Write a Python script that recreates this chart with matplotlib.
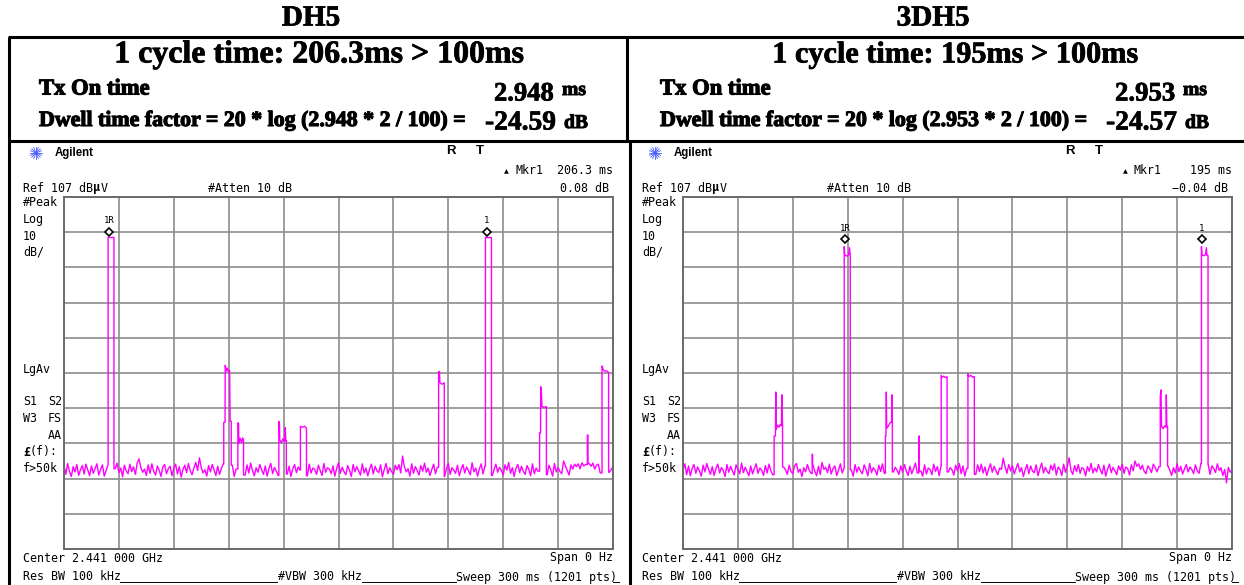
import numpy as np
import matplotlib
matplotlib.use('Agg')
import matplotlib.pyplot as plt
import matplotlib.patheffects as pe

# ---------------- data ----------------
PANEL_TITLES = ['DH5', '3DH5']
CYCLE_TIMES = ['206.3ms', '195ms']
TX_ON = ['2.948', '2.953']
DWELL_DB = ['-24.59', '-24.57']
MKR_DELTA_TIME = ['206.3 ms', '195 ms']
MKR_DELTA_DB = ['0.08 dB', '\u22120.04 dB']

REF_DB = 107          # dBuV top of screen
DB_PER_DIV = 10
SWEEP_MS = 300
NOISE_STEP_MS = 1

# noise floor samples (dBuV), one every 1 ms from 0 to 300 ms
DH5_NOISE = [
    30.8, 28.2, 31.3, 29.0, 27.6, 30.4, 28.9, 31.0, 27.9, 29.5, 30.7, 28.3, 31.1, 29.4, 27.8, 30.6, 28.5, 29.9, 31.2, 28.0,
    29.6, 30.9, 27.7, 29.3, 31.0, 28.6, 30.2, 28.1, 29.8, 31.4, 28.7, 30.0, 27.5, 30.8, 29.2, 28.4, 31.1, 29.0, 30.3, 28.2,
    31.5, 32.6, 30.1, 28.8, 29.7, 27.9, 30.9, 28.5, 31.2, 29.1, 28.0, 30.6, 29.4, 27.6, 30.3, 31.0, 28.4, 29.8, 30.5, 27.8,
    29.9, 31.1, 28.3, 30.4, 27.4, 29.6, 30.8, 28.7, 31.3, 29.2, 28.1, 30.0, 31.6, 29.3, 32.9, 30.2, 28.6, 29.5, 27.7, 30.7,
    28.9, 31.0, 29.4, 27.9, 30.5, 28.2, 29.9, 31.2, 28.5, 30.3, 29.0, 28.4, 30.8, 27.6, 29.7, 31.1, 28.3, 30.4, 29.2, 28.0,
    30.9, 28.6, 31.4, 29.3, 27.8, 30.1, 28.8, 31.0, 29.5, 28.2, 30.6, 27.7, 29.9, 31.3, 28.4, 30.2, 29.1, 27.9, 30.7, 28.5,
    31.2, 29.0, 28.3, 30.5, 27.6, 29.8, 31.0, 28.7, 30.3, 29.4, 28.1, 30.9, 29.2, 27.8, 31.1, 28.6, 30.0, 29.6, 28.2, 30.8,
    29.3, 27.9, 31.3, 28.8, 30.1, 29.7, 28.4, 30.6, 27.7, 29.9, 31.5, 28.5, 30.2, 29.0, 28.1, 30.7, 29.4, 27.6, 31.0, 28.9,
    30.4, 29.1, 28.0, 31.2, 28.6, 30.0, 27.8, 29.7, 31.1, 28.3, 30.5, 29.2, 28.7, 30.9, 27.5, 29.6, 31.3, 28.4, 30.1, 29.0,
    28.2, 30.8, 29.5, 31.0, 28.6, 33.4, 30.3, 28.9, 29.8, 27.7, 31.2, 28.5, 30.4, 29.3, 28.0, 30.7, 29.1, 31.4, 28.8, 30.0,
    27.9, 29.6, 31.1, 28.4, 30.2, 29.0, 28.7, 30.6, 27.6, 29.9, 31.3, 28.2, 30.1, 29.4, 28.5, 30.8, 27.8, 29.7, 31.0, 28.6,
    30.3, 29.2, 28.1, 31.5, 28.9, 30.0, 27.7, 29.8, 31.2, 28.3, 30.6, 29.1, 28.6, 30.4, 27.9, 29.5, 31.1, 28.8, 30.2, 29.3,
    28.0, 30.9, 29.4, 31.6, 28.5, 30.1, 27.6, 29.9, 31.0, 28.7, 30.5, 29.0, 28.2, 30.7, 29.6, 27.8, 31.2, 28.4, 30.0, 29.1,
    28.6, 30.3, 29.2, 31.0, 28.1, 30.8, 29.5, 27.7, 31.3, 28.9, 30.2, 29.0, 28.4, 32.0, 30.6, 29.3, 28.0, 30.9, 29.7, 31.1,
    30.4, 31.2, 29.8, 31.5, 30.6, 31.0, 29.9, 31.3, 30.5, 31.4, 29.7, 30.8, 31.1, 28.6, 30.2, 29.4, 27.5, 30.0, 28.8, 29.6,
    30.3,
]
DH5_BURSTS = [
    [(24.1, 95.5), (27.3, 95.5)],
    [(87.3, 43.0), (88.0, 43.0), (88.1, 59.2), (88.6, 57.6), (89.2, 58.4),
     (89.8, 57.3), (90.5, 57.8), (90.8, 43.3), (91.4, 43.3)],
    [(95.0, 42.8), (95.4, 42.8), (95.5, 37.0), (96.2, 38.5), (97.0, 37.2),
     (97.6, 38.6), (98.1, 38.0)],
    [(117.4, 43.2), (117.7, 43.2), (117.9, 38.0), (118.8, 37.2), (119.6, 38.3),
     (120.5, 37.5), (120.9, 41.5), (121.2, 37.8), (121.5, 37.8)],
    [(129.2, 41.8), (130.5, 41.6), (131.5, 41.9), (132.5, 41.3)],
    [(204.7, 57.4), (205.2, 57.4), (205.4, 54.3), (206.5, 53.8), (207.8, 54.2)],
    [(230.3, 95.5), (233.6, 95.5)],
    [(259.9, 40.0), (260.4, 40.0), (260.5, 53.1), (260.8, 52.0), (261.2, 47.5),
     (262.5, 47.2), (263.6, 47.5)],
    [(286.0, 39.4), (286.3, 39.4)],
    [(294.0, 59.0), (294.6, 58.0), (295.5, 57.5), (296.5, 57.6), (297.6, 57.2)],
]
DH5_MKR_TIMES = [24.6, 230.9]
DH5_MKR_LEVELS = [97.1, 97.1]
DH5_MKR_LABELS = ['1R', '1']

DH3_NOISE = [
    29.4, 31.2, 28.1, 30.6, 27.8, 29.9, 31.0, 28.5, 30.3, 29.1, 27.7, 30.8, 28.9, 31.3, 29.6, 28.2, 30.4, 27.9, 29.8, 31.1,
    28.6, 30.1, 29.3, 27.6, 31.0, 28.8, 30.5, 29.2, 28.0, 30.9, 29.7, 28.4, 31.4, 28.7, 30.2, 29.0, 27.8, 30.6, 28.3, 29.9,
    31.2, 28.5, 30.0, 29.4, 27.9, 30.7, 28.6, 31.1, 29.2, 28.1, 30.4, 29.8, 27.7, 31.0, 28.9, 30.3, 29.5, 28.2, 30.8, 29.0,
    28.4, 30.6, 31.3, 28.8, 29.7, 27.6, 30.1, 28.9, 31.0, 29.3, 28.5, 30.9, 29.1, 27.8, 30.5, 28.2, 31.6, 29.6, 30.2, 28.7,
    31.1, 28.3, 29.9, 30.6, 27.9, 29.4, 31.2, 28.6, 30.0, 29.2, 28.1, 30.7, 29.5, 27.7, 31.0, 28.8, 30.3, 29.1, 28.4, 30.9,
    29.6, 27.8, 31.3, 28.7, 30.1, 29.3, 28.0, 30.8, 29.0, 31.2, 28.5, 30.4, 27.6, 29.9, 31.0, 28.9, 30.2, 29.4, 28.2, 30.6,
    28.8, 31.0, 29.2, 27.9, 30.5, 28.4, 29.8, 31.4, 28.6, 30.3, 29.1, 27.7, 30.9, 28.3, 30.0, 29.6, 28.1, 31.1, 29.0, 30.4,
    27.8, 30.7, 29.3, 28.5, 31.2, 28.9, 30.1, 29.5, 28.0, 30.8, 29.2, 31.3, 28.4, 30.6, 27.7, 29.9, 31.0, 28.7, 30.2, 29.4,
    28.2, 30.9, 29.0, 31.1, 28.6, 30.3, 27.9, 29.7, 31.2, 28.8, 30.5, 29.3, 28.1, 30.0, 29.6, 32.8, 30.4, 28.5, 31.0, 29.2,
    30.7, 28.3, 29.9, 31.3, 28.9, 30.1, 27.6, 29.5, 31.0, 28.4, 30.6, 29.1, 28.7, 30.9, 27.8, 29.8, 31.4, 28.6, 30.2, 29.0,
    28.4, 30.8, 29.4, 31.2, 28.0, 30.3, 29.6, 27.9, 31.1, 28.8, 30.5, 32.9, 29.3, 28.2, 30.7, 29.0, 31.0, 28.5, 30.1, 29.7,
    27.8, 30.4, 29.1, 31.3, 28.6, 30.0, 28.9, 31.0, 29.5, 28.3, 30.8, 27.7, 29.6, 31.1, 28.7, 30.2, 29.2, 28.1, 30.6, 29.4,
    31.0, 28.5, 30.3, 29.8, 28.0, 30.9, 29.2, 32.0, 30.5, 31.2, 29.6, 30.8, 29.1, 28.4, 30.6, 29.9, 28.7, 31.1, 30.2, 28.9,
    30.4, 29.3, 28.2, 31.0, 28.8, 30.6, 29.4, 27.9, 30.1, 28.6, 31.2, 29.0, 30.5, 28.3, 29.7, 31.0, 28.9, 30.3, 29.6, 28.4,
    30.9, 29.2, 28.5, 31.3, 28.8, 30.0, 29.4, 31.0, 28.2, 30.6, 29.9, 28.7, 31.2, 29.3, 30.1, 27.9, 29.6, 25.8, 30.2, 28.8,
    29.5,
]
DH3_BURSTS = [
    [(49.8, 39.1), (50.5, 39.1), (50.7, 51.6), (50.9, 41.0), (51.6, 42.2),
     (52.4, 41.6), (53.2, 42.4), (53.8, 42.0), (54.0, 50.8), (54.4, 42.0)],
    [(70.6, 33.9), (70.8, 33.9)],
    [(88.1, 92.9), (88.4, 90.5), (89.5, 90.2), (90.6, 90.6), (91.0, 92.6),
     (91.4, 90.4)],
    [(110.6, 39.1), (110.9, 39.1), (111.1, 51.6), (111.3, 41.3), (112.3, 42.0),
     (113.3, 43.0), (114.0, 43.0), (114.2, 50.8), (114.4, 43.0)],
    [(128.9, 39.1), (129.1, 39.1)],
    [(141.1, 56.3), (141.6, 55.8), (142.5, 56.1), (143.4, 55.7), (144.3, 55.9)],
    [(155.7, 56.8), (156.2, 56.0), (157.2, 56.3), (158.3, 55.8), (159.2, 56.0)],
    [(260.8, 50.3), (261.2, 52.2), (261.5, 41.8), (262.3, 41.2), (263.2, 42.0),
     (263.9, 41.6), (264.1, 50.8), (264.4, 42.0), (264.8, 41.8)],
    [(283.3, 92.9), (283.6, 90.5), (284.6, 90.3), (285.5, 90.6), (286.0, 92.6),
     (286.3, 90.4), (286.9, 90.4)],
]
DH3_MKR_TIMES = [88.6, 283.6]
DH3_MKR_LEVELS = [95.0, 95.0]
DH3_MKR_LABELS = ['1R', '1']

# ---------------- layout ----------------
W, H = 1244, 585
fig = plt.figure(figsize=(W / 100, H / 100), dpi=100)
bg = fig.add_axes([0, 0, 1, 1])
bg.set_xlim(0, W)
bg.set_ylim(H, 0)
bg.axis('off')
renderer = fig.canvas.get_renderer()

SERIF = ['Liberation Serif', 'DejaVu Serif']
MONO = ['DejaVu Sans Mono']
SANS = ['Liberation Sans', 'DejaVu Sans']


def heavy(lw):
    return [pe.withStroke(linewidth=lw, foreground='black')]


def fit_text(x, y, s, width, ha='left', va='center', stroke=0.5, **kw):
    t = bg.text(x, y, s, ha=ha, va=va, fontsize=10, **kw)
    bb = t.get_window_extent(renderer=renderer)
    t.set_fontsize(10 * width / bb.width)
    t.set_path_effects(heavy(stroke))
    return t


def mono(x, y, s, ha='left', size=8.4, **kw):
    return bg.text(x, y, s, ha=ha, va='center', fontsize=size, family=MONO, **kw)


def build_trace(noise, bursts):
    t = [i * NOISE_STEP_MS for i in range(len(noise))]
    pts = list(zip(t, noise))
    for b in bursts:
        t0, t1 = b[0][0], b[-1][0]
        before = [p for p in pts if p[0] < t0]
        after = [p for p in pts if p[0] > t1]
        base0 = before[-1][1] if before else noise[0]
        base1 = after[0][1] if after else noise[-1]
        pts = before + [(t0, base0)] + list(b) + [(t1, base1)] + after
    tt = np.array([p[0] for p in pts])
    vv = np.array([p[1] for p in pts])
    return tt, vv


GRID_TOP, GRID_BOTTOM = 197, 549
GRID_W = 549
PANEL_DX = [0, 619]
GRID_X0 = 64
TITLE_CENTER = [311, 933]
CYCLE_BOX = [(319, 410), (955, 366)]      # centre, width of cycle-time line
HEAD_X = [39, 660]

# table lines
lw_border = 2.2
bg.plot([8, W], [37, 37], color='black', lw=lw_border, solid_capstyle='butt')
bg.plot([8.5, 8.5], [37, H], color='black', lw=lw_border, solid_capstyle='butt')
bg.plot([627, 627], [37, 141], color='black', lw=lw_border, solid_capstyle='butt')
bg.plot([8, W], [141, 141], color='black', lw=lw_border, solid_capstyle='butt')
bg.plot([629.5, 629.5], [141, H], color='black', lw=lw_border, solid_capstyle='butt')

traces = [build_trace(DH5_NOISE, DH5_BURSTS), build_trace(DH3_NOISE, DH3_BURSTS)]
markers = [(DH5_MKR_TIMES, DH5_MKR_LEVELS, DH5_MKR_LABELS),
           (DH3_MKR_TIMES, DH3_MKR_LEVELS, DH3_MKR_LABELS)]

for i in range(2):
    dx = PANEL_DX[i]
    # header
    ttl = bg.text(TITLE_CENTER[i], 18, PANEL_TITLES[i], ha='center', va='center',
                  fontsize=21, weight='bold', family=SERIF)
    ttl.set_path_effects(heavy(0.5))
    cc, cwid = CYCLE_BOX[i]
    fit_text(cc, 55, f'1 cycle time: {CYCLE_TIMES[i]} > 100ms', cwid,
             ha='center', weight='bold', family=SERIF)
    hx = HEAD_X[i]
    fit_text(hx, 89, 'Tx On time', 111, stroke=0.8, weight='bold', family=SERIF)
    fit_text(hx + 455, 94, TX_ON[i], 60, weight='bold', family=SERIF)
    fit_text(hx + 523, 90, 'ms', 24, stroke=0.7, weight='bold', family=SERIF)
    fit_text(hx, 121, f'Dwell time factor = 20 * log ({TX_ON[i]} * 2 / 100) =', 428,
             stroke=0.8, weight='bold', family=SERIF)
    fit_text(hx + 446, 123, DWELL_DB[i], 71, weight='bold', family=SERIF)
    fit_text(hx + 525, 123, 'dB', 24, stroke=0.7, weight='bold', family=SERIF)

    # analyzer screen annotations
    cx, cy = 36 + dx, 153
    for ang in np.arange(0, 180, 22.5):
        a = np.deg2rad(ang)
        bg.plot([cx - 6 * np.cos(a), cx + 6 * np.cos(a)],
                [cy - 6 * np.sin(a), cy + 6 * np.sin(a)], color='#4a5bff', lw=0.6)
    bg.text(55 + dx, 153, 'Agilent', ha='left', va='center', fontsize=8.3,
            weight='bold', family=SANS)
    bg.text(451 + dx, 151, 'R', ha='center', va='center', fontsize=9.5,
            weight='bold', family=SANS)
    bg.text(480 + dx, 151, 'T', ha='center', va='center', fontsize=9.5,
            weight='bold', family=SANS)
    bg.text(506 + dx, 172, '\u25b2', ha='center', va='center', fontsize=4.5,
            family=['DejaVu Sans'])
    mono(515 + dx, 171, 'Mkr1')
    mono(613 + dx, 171, MKR_DELTA_TIME[i], ha='right')
    mono(609 + dx, 188, MKR_DELTA_DB[i], ha='right')
    cw = 0.602 * 8.4 * 100 / 72
    mono(23 + dx, 188, 'Ref 107 dB')
    mono(23 + dx + 10 * cw, 188, '\u03bc', weight='bold')
    mono(23 + dx + 11 * cw, 188, 'V')
    mono(208 + dx, 188, '#Atten 10 dB')
    mono(23 + dx, 203, '#Peak')
    mono(23 + dx, 220, 'Log')
    mono(23 + dx, 236.5, '10')
    mono(23 + dx, 252, 'dB/')
    mono(23 + dx, 369, 'LgAv')
    mono(23 + dx, 401.5, 'S1')
    mono(62 + dx, 401.5, 'S2', ha='right')
    mono(23 + dx, 418.5, 'W3')
    mono(62 + dx, 418.5, 'FS', ha='right')
    mono(62 + dx, 435.5, 'AA', ha='right')
    mono(23 + dx, 452, '\u00a3', weight='bold')
    mono(23 + dx + cw, 452, '(f):')
    mono(23 + dx, 469, 'f>50k')
    mono(23 + dx, 558, 'Center 2.441 000 GHz')
    mono(613 + dx, 558, 'Span 0 Hz', ha='right')
    mono(23 + dx, 577, 'Res BW 100 kHz')
    mono(278 + dx, 577, '#VBW 300 kHz')
    mono(456 + dx, 577, 'Sweep 300 ms (1201 pts)')
    for xa, xb in [(120, 277), (362, 456), (613, 619)]:
        bg.plot([xa + dx, xb + dx], [582, 582], color='black', lw=0.7)

    # trace graticule
    x0 = GRID_X0 + dx
    ax = fig.add_axes([x0 / W, (H - GRID_BOTTOM) / H, GRID_W / W,
                       (GRID_BOTTOM - GRID_TOP) / H])
    ax.set_xlim(0, SWEEP_MS)
    ax.set_ylim(REF_DB - 10 * DB_PER_DIV, REF_DB)
    ax.set_xticks(np.linspace(0, SWEEP_MS, 11))
    ax.set_yticks(np.linspace(REF_DB - 10 * DB_PER_DIV, REF_DB, 11))
    ax.tick_params(length=0, labelbottom=False, labelleft=False)
    ax.grid(True, color='#8c8c8c', lw=1.2)
    ax.set_axisbelow(True)
    for s in ax.spines.values():
        s.set_color('#6a6a6a')
        s.set_linewidth(1.4)
    tt, vv = traces[i]
    ax.plot(tt, vv, color='#ff00ff', lw=1.0, clip_on=True)
    mt, ml, mlab = markers[i]
    ax.plot(mt, ml, linestyle='none', marker='D', ms=4.2, mfc='white',
            mec='black', mew=1.2, zorder=5)
    for t, lv, lab in zip(mt, ml, mlab):
        ax.annotate(lab, (t, lv), xytext=(0, 8), textcoords='offset points',
                    ha='center', va='center', fontsize=6.5, family=MONO)

fig.savefig('out.png', dpi=100)
